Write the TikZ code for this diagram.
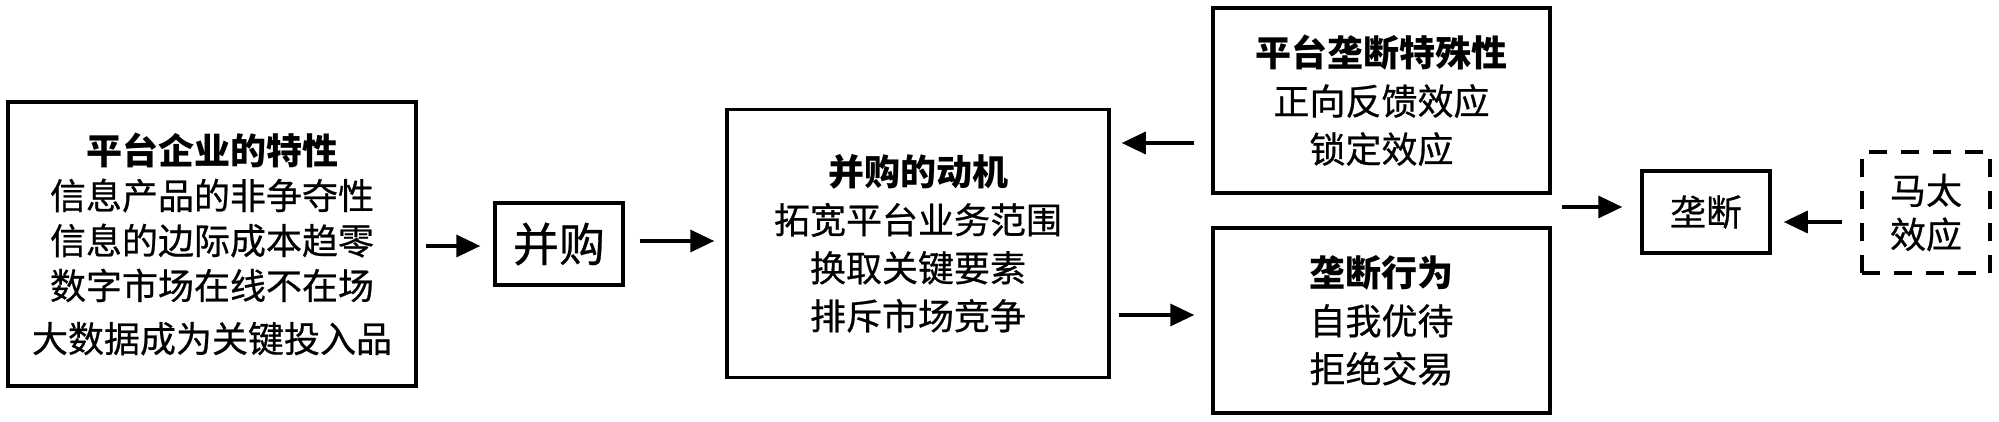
\documentclass[tikz,border=0pt]{standalone}
\usepackage{fontspec}
\setmainfont{Noto Sans CJK SC}[UprightFeatures={FakeBold=0.6}]
\usetikzlibrary{arrows.meta}
\begin{document}
\begin{tikzpicture}[x=1pt,y=-1pt,
  box/.style={draw, line width=3.5pt, inner sep=0pt, align=center,
    font=\fontsize{36pt}{48pt}\selectfont},
  arr/.style={line width=3.5pt, -{Triangle[length=24pt,width=22pt]}},
]
\useasboundingbox (0,0) rectangle (1999,422);
\node[box, minimum width=408, minimum height=284, font=\fontsize{36pt}{45pt}\selectfont] (feat) at (212,244)
  {{\bfseries 平台企业的特性}\\信息产品的非争夺性\\信息的边际成本趋零\\数字市场在线不在场\\[8pt]大数据成为关键投入品};
\node[box, minimum width=128, minimum height=82, font=\fontsize{46pt}{50pt}\selectfont] (buy) at (559,244) {并购};
\node[box, minimum width=382, minimum height=268] (motive) at (918,243.5)
  {{\bfseries 并购的动机}\\拓宽平台业务范围\\换取关键要素\\排斥市场竞争};
\node[box, minimum width=337, minimum height=185] (special) at (1381.5,100.5)
  {{\bfseries 平台垄断特殊性}\\正向反馈效应\\锁定效应};
\node[box, minimum width=337, minimum height=185] (behav) at (1381.5,320.5)
  {{\bfseries 垄断行为}\\自我优待\\拒绝交易};
\node[box, minimum width=128, minimum height=82] (mono) at (1706,212) {垄断};
\node[box, dash pattern=on 18pt off 14pt, minimum width=128, minimum height=121,
  font=\fontsize{36pt}{44pt}\selectfont] (matt) at (1926,212.5) {马太\\效应};

\draw[arr, shorten <=8pt, shorten >=13pt] (feat.east |- 0,246) -- (buy.west |- 0,246);
\draw[arr, shorten <=15pt, shorten >=11pt] (buy.east |- 0,241) -- (motive.west |- 0,241);
\draw[arr, shorten <=17pt, shorten >=11pt] (special.west |- 0,143) -- (motive.east |- 0,143);
\draw[arr, shorten <=8pt, shorten >=17pt] (motive.east |- 0,315) -- (behav.west |- 0,315);
\coordinate (join) at ([xshift=10pt]special.east |- 0,207);
\draw[arr, shorten >=18pt] (join) -- (mono.west |- join);
\draw[arr, shorten <=18pt, shorten >=12pt] (matt.west |- 0,222) -- (mono.east |- 0,222);
\end{tikzpicture}
\end{document}
